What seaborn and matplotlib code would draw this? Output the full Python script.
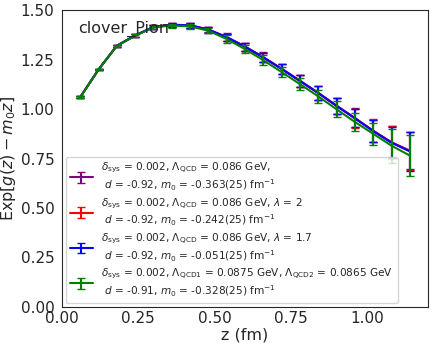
import numpy as np
import pandas as pd
import matplotlib
matplotlib.use("Agg")
import matplotlib.pyplot as plt
from matplotlib.ticker import AutoMinorLocator
import seaborn as sns

# z in fm
z = [0.06, 0.12, 0.18, 0.24, 0.30, 0.36, 0.42, 0.48, 0.54, 0.60,
     0.66, 0.72, 0.78, 0.84, 0.90, 0.96, 1.02, 1.08, 1.14]

# Exp[g(z) - m0 z] for each setup
purple_y = [1.060, 1.200, 1.320, 1.372, 1.415, 1.426, 1.424, 1.402, 1.364, 1.316,
            1.262, 1.204, 1.143, 1.082, 1.017, 0.955, 0.890, 0.832, 0.790]
red_y = [1.060, 1.200, 1.320, 1.372, 1.415, 1.426, 1.423, 1.401, 1.363, 1.315,
         1.261, 1.203, 1.142, 1.081, 1.016, 0.954, 0.890, 0.832, 0.788]
blue_y = [1.060, 1.200, 1.320, 1.372, 1.415, 1.426, 1.423, 1.401, 1.363, 1.315,
          1.261, 1.203, 1.142, 1.081, 1.016, 0.953, 0.889, 0.830, 0.786]
green_y = [1.060, 1.200, 1.320, 1.370, 1.413, 1.422, 1.418, 1.396, 1.354, 1.303,
           1.247, 1.187, 1.126, 1.064, 0.999, 0.935, 0.875, 0.815, 0.765]

purple_err = [0.004, 0.005, 0.006, 0.007, 0.008, 0.010, 0.012, 0.014, 0.018, 0.020,
              0.024, 0.026, 0.030, 0.034, 0.040, 0.048, 0.055, 0.080, 0.095]
red_err = [0.004, 0.005, 0.006, 0.007, 0.008, 0.010, 0.012, 0.014, 0.018, 0.020,
           0.024, 0.026, 0.030, 0.034, 0.040, 0.048, 0.058, 0.080, 0.095]
blue_err = [0.004, 0.005, 0.006, 0.007, 0.008, 0.010, 0.012, 0.014, 0.018, 0.020,
            0.024, 0.026, 0.030, 0.034, 0.040, 0.046, 0.055, 0.078, 0.100]
green_err = [0.004, 0.005, 0.006, 0.007, 0.008, 0.010, 0.012, 0.014, 0.018, 0.020,
             0.024, 0.026, 0.030, 0.034, 0.040, 0.046, 0.055, 0.085, 0.105]

labels = [
    r"$\delta_{\rm sys}$ = 0.002, $\Lambda_{\rm QCD}$ = 0.086 GeV," + "\n"
    + r" $d$ = -0.92, $m_0$ = -0.363(25) fm$^{-1}$",
    r"$\delta_{\rm sys}$ = 0.002, $\Lambda_{\rm QCD}$ = 0.086 GeV, $\lambda$ = 2" + "\n"
    + r" $d$ = -0.92, $m_0$ = -0.242(25) fm$^{-1}$",
    r"$\delta_{\rm sys}$ = 0.002, $\Lambda_{\rm QCD}$ = 0.086 GeV, $\lambda$ = 1.7" + "\n"
    + r" $d$ = -0.92, $m_0$ = -0.051(25) fm$^{-1}$",
    r"$\delta_{\rm sys}$ = 0.002, $\Lambda_{\rm QCD1}$ = 0.0875 GeV, $\Lambda_{\rm QCD2}$ = 0.0865 GeV" + "\n"
    + r" $d$ = -0.91, $m_0$ = -0.328(25) fm$^{-1}$",
]
colors = ["purple", "red", "blue", "green"]
ys = [purple_y, red_y, blue_y, green_y]
errs = [purple_err, red_err, blue_err, green_err]

sns.set_style("white")
plt.rcParams['font.family'] = ['DejaVu Sans']

fig = plt.figure(figsize=(4.36, 3.5), dpi=100)
ax = fig.add_axes([0.142, 0.123, 0.84, 0.848])

handles = []
for y, e, c in zip(ys, errs, colors):
    df = pd.DataFrame({"z": z, "y": y})
    sns.lineplot(data=df, x="z", y="y", color=c, lw=1.5, ax=ax, legend=False)
    line = ax.lines[-1]
    eb = ax.errorbar(z, y, yerr=e, fmt="none", ecolor=c, elinewidth=1.5,
                     capsize=3, capthick=1)
    handles.append((line, eb))

ax.set_xlim(0, 1.2)
ax.set_ylim(0, 1.5)
ax.set_xticks([0, 0.25, 0.5, 0.75, 1.0])
ax.set_yticks([0, 0.25, 0.5, 0.75, 1.0, 1.25, 1.5])
ax.xaxis.set_minor_locator(AutoMinorLocator())
ax.yaxis.set_minor_locator(AutoMinorLocator())
ax.tick_params(axis="x", which="both", direction="in", labelsize=11, pad=3)
ax.tick_params(axis="y", which="both", direction="out", labelsize=11, pad=2)
ax.tick_params(which="minor", length=2)

ax.set_xlabel("z (fm)", fontsize=11.5, labelpad=1)
ax.set_ylabel(r"Exp$[g(z)-m_0 z]$", fontsize=11.5, labelpad=2)
ax.text(0.044, 0.925, "clover_Pion", transform=ax.transAxes, fontsize=11.5)

ax.legend(handles, labels, loc="lower left", fontsize=7.6, handlelength=2.2,
          borderaxespad=0.35, labelspacing=0.3)

fig.savefig("out.png", dpi=100)
